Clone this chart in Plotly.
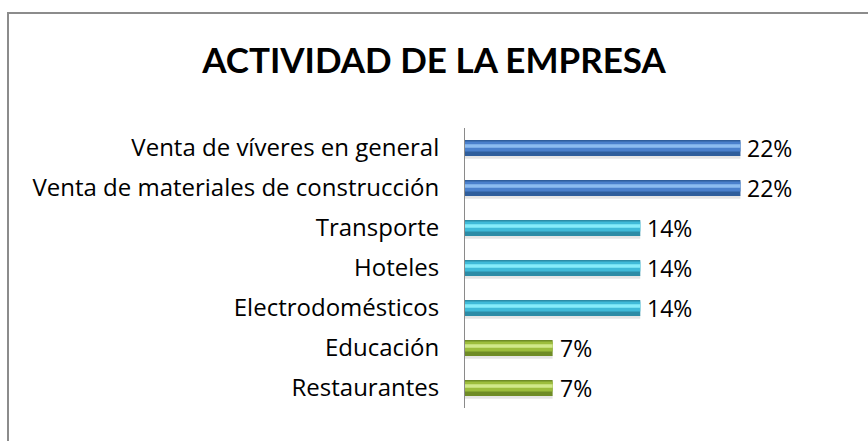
import plotly.graph_objects as go

# Business activity breakdown (percent of companies)
categories = [
    "Venta de víveres en general",
    "Venta de materiales de construcción",
    "Transporte",
    "Hoteles",
    "Electrodomésticos",
    "Educación",
    "Restaurantes",
]
values = [22, 22, 14, 14, 14, 7, 7]
labels = ["22%", "22%", "14%", "14%", "14%", "7%", "7%"]

# colour tiers: (dark body, mid tone, highlight)
blue = ("#2f5e9c", "#4a80cc", "#8cbcf0")
cyan = ("#2c8ca6", "#3fbad8", "#86ecfa")
green = ("#6f8c26", "#9cbd3c", "#d0e88a")
tiers = [blue, blue, cyan, cyan, cyan, green, green]

TITLE_FONT = "Lato"
FONT = "Open Sans"
BAR_W = 0.40

fig = go.Figure()

# soft drop shadow under each bar
fig.add_trace(go.Bar(
    y=categories, x=values, orientation="h",
    width=0.09, offset=-BAR_W / 2 - 0.07,
    marker=dict(color="rgba(0,0,0,0.10)", line=dict(width=0)),
    hoverinfo="skip", showlegend=False,
))
# bar body (darker edge tone)
fig.add_trace(go.Bar(
    y=categories, x=values, orientation="h",
    width=BAR_W, offset=-BAR_W / 2,
    marker=dict(color=[t[0] for t in tiers], line=dict(width=0)),
    showlegend=False,
))
# mid tone band
fig.add_trace(go.Bar(
    y=categories, x=values, orientation="h",
    width=BAR_W * 0.62, offset=-BAR_W / 2 + BAR_W * 0.28,
    marker=dict(color=[t[1] for t in tiers], line=dict(width=0)),
    hoverinfo="skip", showlegend=False,
))
# glossy highlight band
fig.add_trace(go.Bar(
    y=categories, x=values, orientation="h",
    width=BAR_W * 0.22, offset=-BAR_W / 2 + BAR_W * 0.52,
    marker=dict(color=[t[2] for t in tiers], line=dict(width=0)),
    hoverinfo="skip", showlegend=False,
))

W, H = 868, 441
L, R, T, B = 465, 90, 128, 33
pw, ph = W - L - R, H - T - B

def px_x(p):
    return (p - L) / pw

def px_y(p):
    return (H - B - p) / ph

# value labels just past the end of each bar
annotations = [
    dict(x=v, y=c, xref="x", yref="y", text=t, showarrow=False,
         xanchor="left", yanchor="middle", xshift=5,
         font=dict(family=FONT, size=23, color="#000000"))
    for c, v, t in zip(categories, values, labels)
]

fig.update_layout(
    width=W, height=H,
    margin=dict(l=L, r=R, t=T, b=B),
    barmode="overlay",
    paper_bgcolor="white", plot_bgcolor="white",
    title=dict(
        text="<b>ACTIVIDAD DE LA EMPRESA</b>",
        x=0.5, xanchor="center", xref="container",
        y=1 - 61 / H, yanchor="middle", yref="container",
        font=dict(family=TITLE_FONT, size=35, color="#000000"),
    ),
    xaxis=dict(range=[0, 25], visible=False),
    yaxis=dict(
        type="category",
        categoryorder="array", categoryarray=categories[::-1],
        showline=True, linecolor="#8a8a8a", linewidth=1,
        showgrid=False, ticks="", ticklabelstandoff=20,
        tickfont=dict(family=FONT, size=24, color="#000000"),
    ),
    annotations=annotations,
    shapes=[dict(
        type="rect", xref="paper", yref="paper",
        x0=px_x(8), x1=px_x(W + 20), y0=px_y(H + 20), y1=px_y(13),
        line=dict(color="#8c8c8c", width=2), fillcolor="rgba(0,0,0,0)",
        layer="below",
    )],
)

fig.write_html("out.html")
